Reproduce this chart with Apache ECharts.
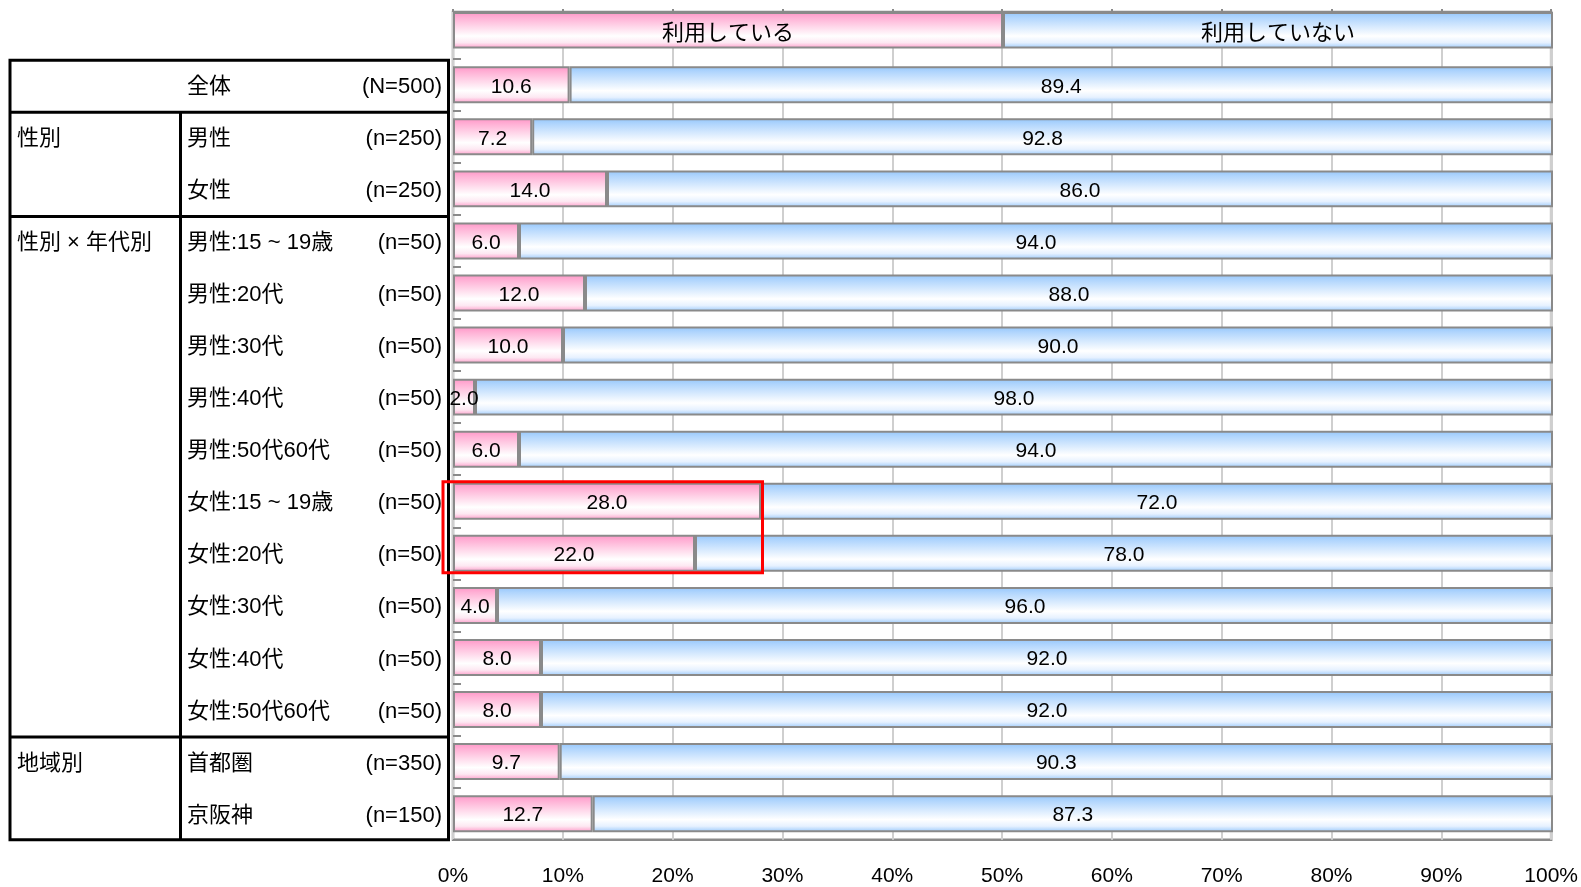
<!DOCTYPE html>
<html lang="ja">
<head>
<meta charset="utf-8">
<title>利用状況</title>
<script src="https://cdn.jsdelivr.net/npm/echarts@6/dist/echarts.min.js"></script>
<style>
  html, body { margin: 0; padding: 0; background: #ffffff; }
  #chart { width: 1581px; height: 887px; }
</style>
</head>
<body>
<div id="chart"></div>
<script>
// Rows of the chart (top to bottom)
const categories = [
  '全体', '男性', '女性',
  '男性:15 ~ 19歳', '男性:20代', '男性:30代', '男性:40代', '男性:50代60代',
  '女性:15 ~ 19歳', '女性:20代', '女性:30代', '女性:40代', '女性:50代60代',
  '首都圏', '京阪神'
];
const sampleSizes = [
  '(N=500)', '(n=250)', '(n=250)',
  '(n=50)', '(n=50)', '(n=50)', '(n=50)', '(n=50)',
  '(n=50)', '(n=50)', '(n=50)', '(n=50)', '(n=50)',
  '(n=350)', '(n=150)'
];
// Row groups of the left-hand table
const groupNames = ['', '性別', '性別 × 年代別', '地域別'];
const groupSizes = [1, 2, 10, 2];

const seriesNames = ['利用している', '利用していない'];
const usingValues    = [10.6, 7.2, 14.0, 6.0, 12.0, 10.0, 2.0, 6.0, 28.0, 22.0, 4.0, 8.0, 8.0, 9.7, 12.7];
const notUsingValues = [89.4, 92.8, 86.0, 94.0, 88.0, 90.0, 98.0, 94.0, 72.0, 78.0, 96.0, 92.0, 92.0, 90.3, 87.3];
const headerShares = [50, 50];

const xTickLabels = ['0%', '10%', '20%', '30%', '40%', '50%', '60%', '70%', '80%', '90%', '100%'];
const highlightRows = ['女性:15 ~ 19歳', '女性:20代'];
const highlightValue = 28.0;

(function () {
  const CJK = "'Noto Sans CJK JP', 'Noto Sans', sans-serif";
  const NUM = "'Liberation Sans Narrow', 'Liberation Sans', 'Noto Sans CJK JP', sans-serif";

  const LEFT = 453, RIGHT = 28;
  const FRAME = '#8a8a8a';

  const pink = () => new echarts.graphic.LinearGradient(0, 0, 0, 1, [
    { offset: 0, color: '#ff94c6' },
    { offset: 0.15, color: '#ffb0d5' },
    { offset: 0.66, color: '#ffffff' },
    { offset: 0.84, color: '#fde8f2' },
    { offset: 1, color: '#ff98c8' }
  ]);
  const blue = () => new echarts.graphic.LinearGradient(0, 0, 0, 1, [
    { offset: 0, color: '#94c6fb' },
    { offset: 0.15, color: '#b0d5fd' },
    { offset: 0.66, color: '#ffffff' },
    { offset: 0.84, color: '#e6f1ff' },
    { offset: 1, color: '#98c8fb' }
  ]);

  // group label shown only on the first row of each group
  const rowGroup = [];
  groupSizes.forEach((n, gi) => {
    for (let k = 0; k < n; k++) rowGroup.push(k === 0 ? groupNames[gi] : '');
  });

  const chart = echarts.init(document.getElementById('chart'), null, { renderer: 'canvas' });

  const valueLabel = {
    show: true,
    position: 'inside',
    offset: [0, 2],
    color: '#000',
    fontSize: 21,
    fontFamily: NUM,
    formatter: p => p.value.toFixed(1)
  };

  const option = {
    animation: false,
    backgroundColor: '#ffffff',
    grid: [
      // frame + vertical grid lines over the whole plot
      { left: LEFT, right: RIGHT, top: 12, bottom: 47.3, show: true, borderColor: FRAME, borderWidth: 2.5, backgroundColor: 'transparent' },
      // header bar (series legend)
      { left: LEFT, right: RIGHT, top: 12, height: 36.5 },
      // data rows
      { left: LEFT, right: RIGHT, top: 58.7, bottom: 47.3 }
    ],
    xAxis: [
      {
        gridIndex: 0, type: 'value', min: 0, max: 100, interval: 10, position: 'bottom',
        axisLine: { show: false }, axisTick: { show: false },
        splitLine: { show: true, lineStyle: { color: '#cfcfcf', width: 2 } },
        axisLabel: { show: true, margin: 26, fontSize: 21, color: '#000', fontFamily: NUM,
          formatter: v => xTickLabels[Math.round(v / 10)] }
      },
      {
        gridIndex: 0, type: 'value', min: 0, max: 100, interval: 10, position: 'top',
        axisLine: { show: false }, splitLine: { show: false }, axisLabel: { show: false },
        axisTick: { show: true, length: 3, lineStyle: { color: FRAME, width: 2 } }
      },
      { gridIndex: 1, type: 'value', min: 0, max: 100, show: false },
      { gridIndex: 2, type: 'value', min: 0, max: 100, show: false }
    ],
    yAxis: [
      { gridIndex: 0, type: 'value', show: false },
      { gridIndex: 1, type: 'category', data: ['header'], show: false },
      {
        gridIndex: 2, type: 'category', inverse: true, data: categories,
        axisLine: { show: false },
        axisTick: { show: true, inside: true, length: 8, interval: 0, lineStyle: { color: FRAME, width: 2 } },
        splitLine: { show: false },
        axisLabel: {
          show: true, margin: 11, interval: 0,
          formatter: (v, i) => `{g|${rowGroup[i] || ' '}}{i|${v}}{n|${sampleSizes[i]}}`,
          rich: {
            g: { width: 170, align: 'left', fontSize: 22, fontFamily: NUM, color: '#000', padding: [4, 0, 0, 0] },
            i: { width: 170, align: 'left', fontSize: 22, fontFamily: NUM, color: '#000', padding: [4, 0, 0, 0] },
            n: { width: 85, align: 'right', fontSize: 22, fontFamily: NUM, color: '#000', padding: [4, 0, 0, 0] }
          }
        }
      }
    ],
    series: [
      {
        name: seriesNames[0], type: 'bar', stack: 'head', xAxisIndex: 2, yAxisIndex: 1,
        barWidth: '100%', data: [headerShares[0]],
        itemStyle: { color: pink(), borderColor: FRAME, borderWidth: 2 },
        label: { show: true, position: 'inside', offset: [0, 1], color: '#000', fontSize: 22, fontFamily: CJK, formatter: seriesNames[0] }
      },
      {
        name: seriesNames[1], type: 'bar', stack: 'head', xAxisIndex: 2, yAxisIndex: 1,
        barWidth: '100%', data: [headerShares[1]],
        itemStyle: { color: blue(), borderColor: FRAME, borderWidth: 2 },
        label: { show: true, position: 'inside', offset: [0, 1], color: '#000', fontSize: 22, fontFamily: CJK, formatter: seriesNames[1] }
      },
      {
        name: seriesNames[0], type: 'bar', stack: 'rows', xAxisIndex: 3, yAxisIndex: 2,
        barWidth: '71%', data: usingValues,
        itemStyle: { color: pink(), borderColor: FRAME, borderWidth: 2 },
        label: valueLabel
      },
      {
        name: seriesNames[1], type: 'bar', stack: 'rows', xAxisIndex: 3, yAxisIndex: 2,
        barWidth: '71%', data: notUsingValues,
        itemStyle: { color: blue(), borderColor: FRAME, borderWidth: 2 },
        label: valueLabel
      }
    ]
  };

  chart.setOption(option);

  // Left-hand table borders and the highlight box, placed from the row axis
  const p0 = chart.convertToPixel({ gridIndex: 2 }, [0, categories[0]]);
  const p1 = chart.convertToPixel({ gridIndex: 2 }, [0, categories[1]]);
  const band = p1[1] - p0[1];
  const tableTop = p0[1] - band / 2 + 1.5;
  const tableBottom = p0[1] - band / 2 + band * categories.length;
  const tx0 = 10, tx1 = 448.5, txDiv = 180.5;
  const lineStyle = { stroke: '#000', lineWidth: 3 };
  const elements = [];
  elements.push({ type: 'rect', shape: { x: tx0, y: tableTop, width: tx1 - tx0, height: tableBottom - tableTop }, style: { fill: 'none', stroke: '#000', lineWidth: 3 }, z: 10 });
  let acc = 0;
  groupSizes.forEach((n) => {
    acc += n;
    if (acc < categories.length) {
      const y = p0[1] - band / 2 + band * acc + 1.5;
      elements.push({ type: 'line', shape: { x1: tx0, y1: y, x2: tx1, y2: y }, style: lineStyle, z: 10 });
    }
  });
  elements.push({ type: 'line', shape: { x1: txDiv, y1: p0[1] - band / 2 + band * groupSizes[0] + 1.5, x2: txDiv, y2: tableBottom }, style: lineStyle, z: 10 });

  const h0 = chart.convertToPixel({ gridIndex: 2 }, [highlightValue, highlightRows[0]]);
  const h1 = chart.convertToPixel({ gridIndex: 2 }, [highlightValue, highlightRows[1]]);
  const half = band * 0.355;
  elements.push({
    type: 'rect',
    shape: { x: LEFT - 10, y: h0[1] - half - 1, width: h0[0] - (LEFT - 10) + 1.5, height: (h1[1] + half) - (h0[1] - half) + 2 },
    style: { fill: 'none', stroke: '#ff0000', lineWidth: 3 },
    z: 20
  });
  chart.setOption({ graphic: { elements } });
})();
</script>
</body>
</html>
